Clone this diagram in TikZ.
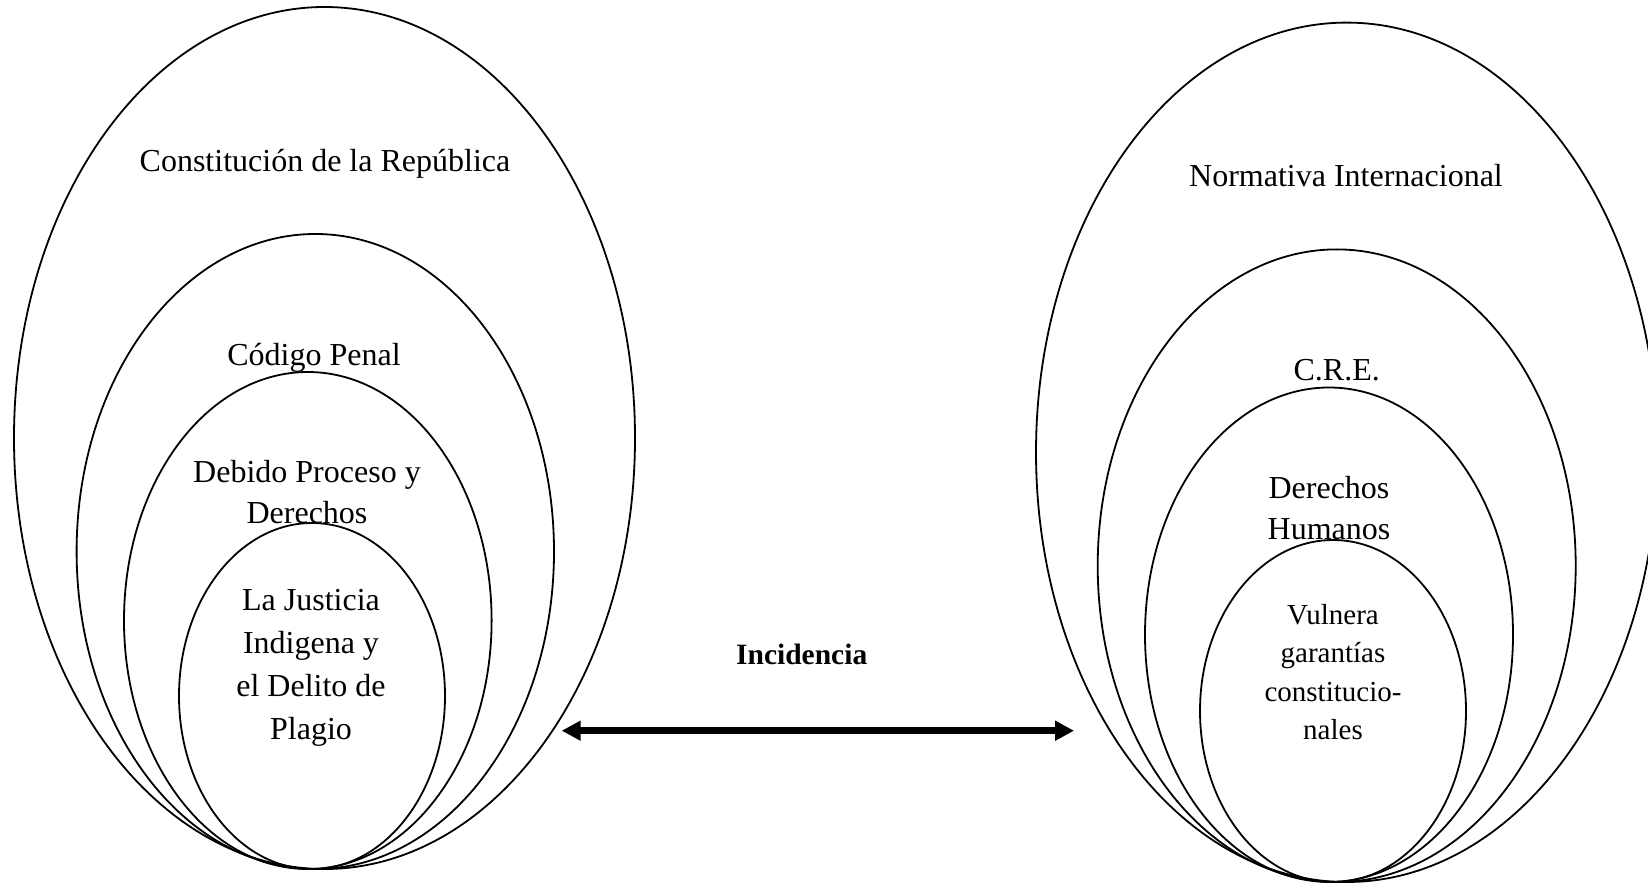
\documentclass[tikz,border=0pt]{standalone}
\usepackage{fontspec}
\setmainfont{Liberation Serif}
\usetikzlibrary{shapes.geometric,arrows.meta}
\tikzset{
  ell/.style={draw, ellipse, inner sep=0pt, outer sep=0pt, line width=1.8pt},
  bigtxt/.style={font=\fontsize{32}{40.6}\selectfont, align=center, anchor=base, inner sep=0pt},
  smalltxt/.style={font=\fontsize{29}{38.3}\selectfont, align=center, anchor=base, inner sep=0pt},
  boldtxt/.style={font=\fontsize{29.5}{35}\selectfont\bfseries, anchor=base, inner sep=0pt},
  link/.style={line width=6.5pt, {Triangle[length=19pt,width=19pt]}-{Triangle[length=19pt,width=19pt]}}
}
\begin{document}
\begin{tikzpicture}[x=1pt,y=-1pt]
\useasboundingbox (0,0) rectangle (1648,885);
% left group
\node[ell, minimum width=621pt, minimum height=862pt] (L1) at (324.5,438) {};
\node[ell, minimum width=477.4pt, minimum height=635pt] (L2) at (315.3,551.5) {};
\node[ell, minimum width=367.6pt, minimum height=497pt] (L3) at (307.8,620.5) {};
\node[ell, minimum width=266pt, minimum height=346pt] (L4) at (312,696) {};
\node[bigtxt] (t1) at (325,171.7) {Constitución de la República};
\node[bigtxt] (t2) at (314,365.5) {Código Penal};
\node[bigtxt] (t3) at (307,523.3) {Debido Proceso y\\Derechos};
\node[bigtxt, font=\fontsize{32}{43}\selectfont] (t4) at (311,739.3) {La Justicia\\Indigena y\\el Delito de\\Plagio};
% right group
\node[ell, minimum width=621.4pt, minimum height=859.4pt] (R1) at (1346.7,452.3) {};
\node[ell, minimum width=478pt, minimum height=632.6pt] (R2) at (1336.7,565.7) {};
\node[ell, minimum width=368pt, minimum height=494.4pt] (R3) at (1329,634.7) {};
\node[ell, minimum width=266pt, minimum height=342pt] (R4) at (1333,711) {};
\node[bigtxt] (r1) at (1346,186.7) {Normativa Internacional};
\node[bigtxt] (r2) at (1336.7,380) {C.R.E.};
\node[bigtxt, font=\fontsize{32}{41}\selectfont] (r3) at (1329,539.3) {Derechos\\Humanos};
\node[smalltxt] (r4) at (1333,739.3) {Vulnera\\garantías\\constitucio-\\nales};
% connector
\node[boldtxt] (inc) at (801.7,664) {Incidencia};
\coordinate (aL) at (561.7,730.7);
\coordinate (aR) at (1074,730.7);
\draw[link] (aL) -- (aR);
\end{tikzpicture}
\end{document}
